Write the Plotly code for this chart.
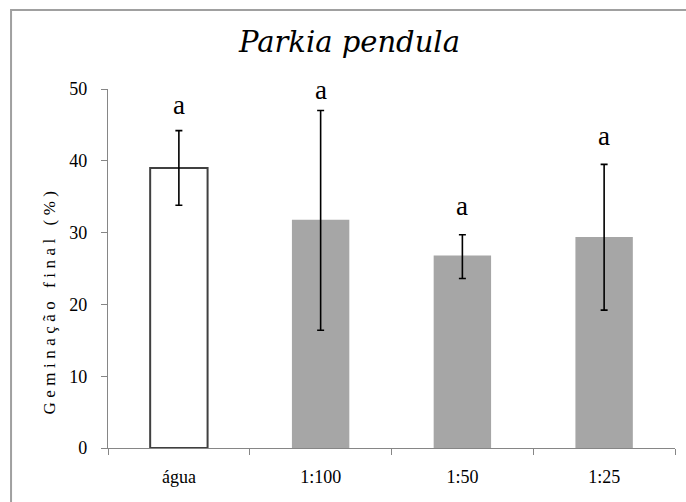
import plotly.graph_objects as go

categories = ["água", "1:100", "1:50", "1:25"]
means = [39.0, 31.8, 26.8, 29.4]
err_plus = [5.2, 15.2, 2.9, 10.1]
err_minus = [5.2, 15.4, 3.2, 10.2]
letters = ["a", "a", "a", "a"]
letter_y = [47.8, 49.9, 33.7, 43.5]
bar_colors = ["white", "#a6a6a6", "#a6a6a6", "#a6a6a6"]
bar_line_colors = ["#404040", "#a6a6a6", "#a6a6a6", "#a6a6a6"]
bar_line_widths = [2, 0, 0, 0]
y_ticks = [0, 10, 20, 30, 40, 50]

FONT = "Liberation Serif"
TITLE_FONT = "DejaVu Serif"

fig = go.Figure()
fig.add_trace(go.Bar(
    x=categories, y=means, width=0.405,
    marker=dict(color=bar_colors, line=dict(color=bar_line_colors, width=bar_line_widths)),
    error_y=dict(type="data", symmetric=False, array=err_plus, arrayminus=err_minus,
                 color="black", thickness=1.6, width=3.5),
    showlegend=False, hoverinfo="skip",
))

for c, t, ly in zip(categories, letters, letter_y):
    fig.add_annotation(x=c, y=ly, text=t, showarrow=False, xanchor="center", yanchor="middle",
                       font=dict(family=FONT, size=27, color="black"))

# chart title
fig.add_annotation(xref="paper", yref="paper", x=0.425, y=1.131, text="Parkia pendula",
                   showarrow=False, xanchor="center", yanchor="middle",
                   font=dict(family=TITLE_FONT, size=29, style="italic", color="black"))

# y-axis title
fig.add_annotation(xref="paper", yref="paper", x=-0.1046, y=0.412, text="Geminação final (%)",
                   textangle=-90, showarrow=False, xanchor="center", yanchor="middle",
                   font=dict(family=FONT, size=17, color="black"))

# outer border (right and bottom edges fall outside the canvas)
fig.add_shape(type="rect", xref="paper", yref="paper", x0=-0.171, y0=-0.16, x1=1.03, y1=1.22,
              line=dict(color="#a0a0a0", width=2), fillcolor="rgba(0,0,0,0)", layer="below")

fig.update_layout(
    width=686, height=502,
    margin=dict(l=108, r=11, t=89, b=54),
    paper_bgcolor="white", plot_bgcolor="white",
    xaxis=dict(type="category", range=[-0.5, 3.5], tickson="boundaries", ticks="outside", ticklen=6,
               tickcolor="#868686", showline=True, linecolor="#868686", linewidth=1.3,
               showgrid=False, tickfont=dict(family=FONT, size=18, color="black"),
               ticklabelstandoff=12),
    yaxis=dict(range=[0, 50], tickvals=y_ticks, ticks="outside", ticklen=6, tickcolor="#868686",
               showline=True, linecolor="#868686", linewidth=1.3, showgrid=False, zeroline=False,
               tickfont=dict(family=FONT, size=18, color="black"), ticklabelstandoff=10),
)

post = """
document.body.style.margin = '0';
document.querySelectorAll('.annotation-text').forEach(function(el){
  if (el.textContent.indexOf('Geminação') === 0) { el.style.letterSpacing = '4.5px'; }
});
"""

fig.write_html("out.html", post_script=post, config={"displayModeBar": False})
